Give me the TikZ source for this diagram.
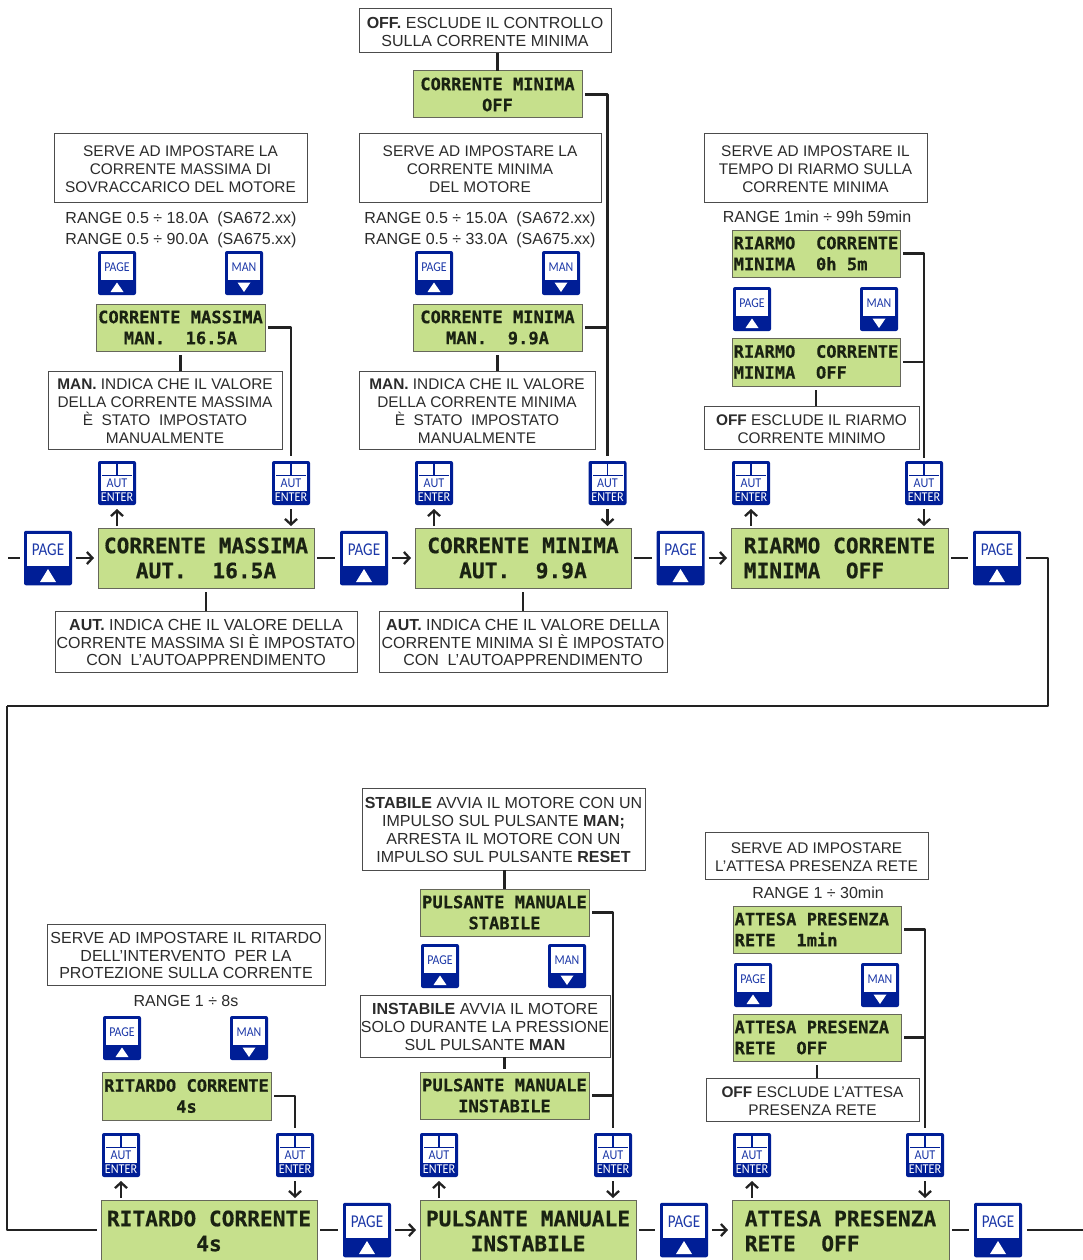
\documentclass[tikz,border=0pt]{standalone}
\usepackage{fontspec}
\usepackage{graphicx}
\setmainfont{Liberation Sans}
\newfontfamily\lcdfont[BoldFeatures={FakeBold=0.5}]{DejaVu Sans Mono}
\newfontfamily\btnfont{Carlito}
\usetikzlibrary{arrows.meta}
\definecolor{lcdgreen}{HTML}{C6E08C}
\definecolor{lcdedge}{HTML}{66675A}
\definecolor{lcdtext}{HTML}{1A2212}
\definecolor{btnblue}{HTML}{001E96}
\definecolor{btntext}{HTML}{1C38A8}
\definecolor{ink}{HTML}{2B2B2B}
\definecolor{conncol}{HTML}{222222}
\tikzset{
 lcdbox/.style={draw=lcdedge,fill=lcdgreen,line width=1pt,inner sep=0pt,outer sep=0pt,text=lcdtext},
 lcdsm/.style={lcdbox,font=\lcdfont\bfseries\fontsize{17.1}{21}\selectfont},
 lcdbg/.style={lcdbox,font=\lcdfont\bfseries\fontsize{21.2}{25}\selectfont},
 txtbox/.style={draw=black!70,fill=white,line width=1pt,inner sep=0pt,outer sep=0pt,align=center,text=ink,font=\fontsize{16}{17.8}\selectfont},
 txtsm/.style={font=\fontsize{15.4}{17.8}\selectfont},
 freetxt/.style={inner sep=0pt,outer sep=0pt,text=ink,font=\fontsize{16}{18}\selectfont},
 btnshape/.style={fill=btnblue,rounded corners=2pt,inner sep=0pt,outer sep=0pt},
 btnin/.style={fill=white},
 conn/.style={draw=conncol,line width=2.5pt,line join=round},
 arr/.style={conn,-{Straight Barb[length=5.5pt,width=12pt,line width=2.3pt]}},
}
\newcommand\lcdS[6]{\pgfmathsetmacro\cx{(#2+#4)/2}\pgfmathsetmacro\cy{(#3+#5)/2}\pgfmathsetmacro\ww{#4-#2}\pgfmathsetmacro\hh{#5-#3}%
 \node[lcdsm,minimum width=\ww pt,minimum height=\hh pt,align=center] (#1) at (\cx,\cy) {#6};}
\newcommand\lcdL[6]{\pgfmathsetmacro\cx{(#2+#4)/2}\pgfmathsetmacro\cy{(#3+#5)/2}\pgfmathsetmacro\ww{#4-#2}\pgfmathsetmacro\hh{#5-#3}%
 \node[lcdsm,minimum width=\ww pt,minimum height=\hh pt,align=left] (#1) at (\cx,\cy) {#6};}
\newcommand\bigC[6]{\pgfmathsetmacro\cx{(#2+#4)/2}\pgfmathsetmacro\cy{(#3+#5)/2}\pgfmathsetmacro\ww{#4-#2}\pgfmathsetmacro\hh{#5-#3}%
 \node[lcdbg,minimum width=\ww pt,minimum height=\hh pt,align=center] (#1) at (\cx,\cy) {#6};}
\newcommand\bigL[6]{\pgfmathsetmacro\cx{(#2+#4)/2}\pgfmathsetmacro\cy{(#3+#5)/2}\pgfmathsetmacro\ww{#4-#2}\pgfmathsetmacro\hh{#5-#3}%
 \node[lcdbg,minimum width=\ww pt,minimum height=\hh pt,align=left] (#1) at (\cx,\cy) {#6};}
\newcommand\tbox[6]{\pgfmathsetmacro\cx{(#2+#4)/2}\pgfmathsetmacro\cy{(#3+#5)/2}\pgfmathsetmacro\ww{#4-#2}\pgfmathsetmacro\hh{#5-#3}%
 \node[txtbox,minimum width=\ww pt,minimum height=\hh pt] (#1) at (\cx,\cy) {\rule{0pt}{13.5pt}#6};}
\newcommand\tboxs[6]{\pgfmathsetmacro\cx{(#2+#4)/2}\pgfmathsetmacro\cy{(#3+#5)/2}\pgfmathsetmacro\ww{#4-#2}\pgfmathsetmacro\hh{#5-#3}%
 \node[txtbox,txtsm,minimum width=\ww pt,minimum height=\hh pt] (#1) at (\cx,\cy) {\rule{0pt}{13.5pt}#6};}
\newcommand\pageS[3]{\begin{scope}[shift={(#2,#3)}]
 \node[btnshape,minimum width=38pt,minimum height=44pt] (#1) at (19,22) {};
 \fill[btnin] (3,3) rectangle (35,29);
 \node[inner sep=0pt,text=btntext,font=\btnfont\fontsize{13.5}{14}\selectfont] (#1t) at (19,16) {\scalebox{.88}[1]{PAGE}};
 \fill[white] (12.5,41) -- (25.5,41) -- (19,31.5) -- cycle;
 \end{scope}}
\newcommand\manS[3]{\begin{scope}[shift={(#2,#3)}]
 \node[btnshape,minimum width=38pt,minimum height=44pt] (#1) at (19,22) {};
 \fill[btnin] (3,3) rectangle (35,29);
 \node[inner sep=0pt,text=btntext,font=\btnfont\fontsize{13.5}{14}\selectfont] (#1t) at (19,16) {\scalebox{.88}[1]{MAN}};
 \fill[white] (12.5,31.5) -- (25.5,31.5) -- (19,41) -- cycle;
 \end{scope}}
\newcommand\autB[3]{\begin{scope}[shift={(#2,#3)}]
 \node[btnshape,minimum width=38pt,minimum height=44pt] (#1) at (19,22) {};
 \fill[btnin] (3,3) rectangle (35,30);
 \fill[btnblue] (4,13.5) rectangle (34,14.5);
 \fill[btnblue] (18.2,3) rectangle (19.8,14);
 \node[inner sep=0pt,text=btntext,font=\btnfont\fontsize{13.5}{14}\selectfont] (#1a) at (19,22.3) {\scalebox{.9}[1]{AUT}};
 \node[inner sep=0pt,text=white,font=\btnfont\fontsize{13.5}{14}\selectfont] (#1e) at (19,36.5) {\scalebox{.9}[1]{ENTER}};
 \end{scope}}
\newcommand\pageB[3]{\begin{scope}[shift={(#2,#3)}]
 \node[btnshape,minimum width=48pt,minimum height=54.5pt] (#1) at (24,27) {};
 \fill[btnin] (3,3) rectangle (45,35);
 \node[inner sep=0pt,text=btntext,font=\btnfont\fontsize{18}{19}\selectfont] (#1t) at (24,19) {\scalebox{.84}[1]{PAGE}};
 \fill[white] (16,51) -- (32,51) -- (24,38) -- cycle;
 \end{scope}}
\begin{document}
\begin{tikzpicture}[x=1pt,y=-1pt]
\useasboundingbox (0,0) rectangle (1083,1260);
\fill[white] (0,0) rectangle (1083,1260);
% ---------- top row ----------
\tbox{topbox}{359}{9}{611}{53}{\textbf{OFF.} ESCLUDE IL CONTROLLO\\SULLA CORRENTE MINIMA}
\lcdS{offlcd}{413}{71}{582}{118}{CORRENTE MINIMA\\OFF}
% left group
\tboxs{d1}{54}{134}{307}{202}{SERVE AD IMPOSTARE LA\\CORRENTE MASSIMA DI\\SOVRACCARICO DEL MOTORE}
\node[freetxt] (r1a) at (181,219.7) {RANGE 0.5 ÷ 18.0A\ \ (SA672.xx)};
\node[freetxt] (r1b) at (181,240.2) {RANGE 0.5 ÷ 90.0A\ \ (SA675.xx)};
\pageS{p1}{98}{251}\manS{m1}{225}{251}
\lcdS{l1}{96}{304}{265}{351}{CORRENTE MASSIMA\\MAN.~~16.5A}
\tboxs{n1}{48}{371}{282}{449}{\textbf{MAN.} INDICA CHE IL VALORE\\DELLA CORRENTE MASSIMA\\È\ \ STATO\ \ IMPOSTATO\\MANUALMENTE}
\autB{a1}{98}{461}\autB{e1}{272}{461}
\bigC{B1}{98}{528}{314}{588}{CORRENTE MASSIMA\\AUT.~~16.5A}
\pageB{P0}{24}{531}\pageB{P1}{340}{531}
\tbox{t1}{55}{611}{357}{672}{\textbf{AUT.} INDICA CHE IL VALORE DELLA\\CORRENTE MASSIMA SI È IMPOSTATO\\CON\ \ L’AUTOAPPRENDIMENTO}
% middle group
\tboxs{d2}{359}{134}{601}{202}{SERVE AD IMPOSTARE LA\\CORRENTE MINIMA\\DEL MOTORE}
\node[freetxt] (r2a) at (480,219.7) {RANGE 0.5 ÷ 15.0A\ \ (SA672.xx)};
\node[freetxt] (r2b) at (480,240.2) {RANGE 0.5 ÷ 33.0A\ \ (SA675.xx)};
\pageS{p2}{415}{251}\manS{m2}{542}{251}
\lcdS{l2}{413}{304}{582}{351}{CORRENTE MINIMA\\MAN.~~9.9A}
\tboxs{n2}{359}{371}{595}{449}{\textbf{MAN.} INDICA CHE IL VALORE\\DELLA CORRENTE MINIMA\\È\ \ STATO\ \ IMPOSTATO\\MANUALMENTE}
\autB{a2}{415}{461}\autB{e2}{588.5}{461}
\bigC{B2}{415}{528}{631}{588}{CORRENTE MINIMA\\AUT.~~9.9A}
\pageB{P2}{656.5}{531}
\tbox{t2}{379}{611}{667}{672}{\textbf{AUT.} INDICA CHE IL VALORE DELLA\\CORRENTE MINIMA SI È IMPOSTATO\\CON\ \ L’AUTOAPPRENDIMENTO}
% right group
\tboxs{d3}{704}{134}{927}{202}{SERVE AD IMPOSTARE IL\\TEMPO DI RIARMO SULLA\\CORRENTE MINIMA}
\node[freetxt] (r3) at (817,216.7) {RANGE 1min ÷ 99h 59min};
\lcdL{l3a}{732}{230}{900}{277}{RIARMO~~CORRENTE\\MINIMA~~0h~5m}
\pageS{p3}{733}{287}\manS{m3}{860}{287}
\lcdL{l3b}{732}{338}{900}{386}{RIARMO~~CORRENTE\\MINIMA~~OFF}
\tboxs{n3}{704}{406}{919}{449}{\textbf{OFF} ESCLUDE IL RIARMO\\CORRENTE MINIMO}
\autB{a3}{732}{461}\autB{e3}{905}{461}
\bigL{B3}{731}{528}{948}{588}{RIARMO CORRENTE\\MINIMA~~OFF}
\pageB{P3}{973}{531}
% ---------- bottom row ----------
\tbox{d4}{47}{924}{325}{985}{SERVE AD IMPOSTARE IL RITARDO\\DELL’INTERVENTO\ \ PER LA\\PROTEZIONE SULLA CORRENTE}
\node[freetxt] (r4) at (186,1000.7) {RANGE 1 ÷ 8s};
\pageS{p4}{103}{1016}\manS{m4}{230}{1016}
\lcdS{l4}{102}{1072}{271}{1120}{RITARDO CORRENTE\\4s}
\autB{a4}{102}{1133}\autB{e4}{276}{1133}
\bigC{B4}{101}{1200}{317}{1262}{RITARDO CORRENTE\\4s}
\pageB{P4}{343}{1203}
\tbox{d5}{362}{788}{645}{870}{\textbf{STABILE} AVVIA IL MOTORE CON UN\\IMPULSO SUL PULSANTE \textbf{MAN;}\\ARRESTA IL MOTORE CON UN\\IMPULSO SUL PULSANTE \textbf{RESET}}
\lcdS{l5a}{420}{889}{589}{936}{PULSANTE MANUALE\\STABILE}
\pageS{p5}{421}{944}\manS{m5}{548}{944}
\tbox{n5}{360}{995}{610}{1057}{\textbf{INSTABILE} AVVIA IL MOTORE\\SOLO DURANTE LA PRESSIONE\\SUL PULSANTE \textbf{MAN}}
\lcdS{l5b}{420}{1072}{589}{1119}{PULSANTE MANUALE\\INSTABILE}
\autB{a5}{420}{1133}\autB{e5}{594}{1133}
\bigC{B5}{420}{1200}{636}{1262}{PULSANTE MANUALE\\INSTABILE}
\pageB{P5}{660}{1203}
\tboxs{d6}{705}{832}{928}{879}{SERVE AD IMPOSTARE\\L’ATTESA PRESENZA RETE}
\node[freetxt] (r6) at (818,892.7) {RANGE 1 ÷ 30min};
\lcdL{l6a}{733}{906}{901}{953}{ATTESA PRESENZA\phantom{A}\\RETE~~1min}
\pageS{p6}{734}{963}\manS{m6}{861}{963}
\lcdL{l6b}{733}{1014}{901}{1061}{ATTESA PRESENZA\phantom{A}\\RETE~~OFF}
\tboxs{n6}{706}{1078}{919}{1121}{\textbf{OFF} ESCLUDE L’ATTESA\\PRESENZA RETE}
\autB{a6}{733}{1133}\autB{e6}{906}{1133}
\bigL{B6}{732}{1200}{949}{1262}{ATTESA PRESENZA\\RETE~~OFF}
\pageB{P6}{974}{1203}
% ---------- free connector ends ----------
\coordinate (inA) at (8,558);
\coordinate (turnA) at (1048,706);
\coordinate (turnB) at (7,706);
\coordinate (outB) at (1083,1230);
% ---------- connectors ----------
\draw[conn] (topbox.south -| offlcd.north) -- (offlcd.north);
\draw[conn,shorten <=3pt,shorten >=5pt] (offlcd.east) -| (e2.north);
\draw[conn,shorten <=3pt] (l2.east) -- (l2.east -| e2.north);
\draw[conn,shorten <=3pt,shorten >=5pt] (l1.east) -| (e1.north);
\draw[conn,shorten <=4pt] (l1.south) -- (l1.south |- n1.north);
\draw[conn,shorten <=4pt] (l2.south) -- (l2.south |- n2.north);
\draw[conn,shorten <=4pt] (B1.south) -- (B1.south |- t1.north);
\draw[conn,shorten <=4pt] (B2.south) -- (B2.south |- t2.north);
\draw[conn,shorten <=3pt,shorten >=3pt] (l3a.east) -| (e3.north);
\draw[conn,shorten <=3pt] (l3b.east) -- (l3b.east -| e3.north);
\draw[conn,shorten <=4pt] (l3b.south) -- (l3b.south |- n3.north);
\foreach \au/\bg in {a1/B1,a2/B2,a3/B3,a4/B4,a5/B5,a6/B6}{
 \draw[arr,shorten <=2pt,shorten >=4pt] (\au.south |- \bg.north) -- (\au.south);}
\foreach \en/\bg in {e1/B1,e2/B2,e3/B3,e4/B4,e5/B5,e6/B6}{
 \draw[arr,shorten <=4pt,shorten >=2pt] (\en.south) -- (\en.south |- \bg.north);}
\draw[conn,shorten >=4pt] (inA) -- (P0.west);
\draw[arr,shorten <=4pt,shorten >=4pt] (P0.east) -- (B1.west);
\draw[conn,shorten <=3pt,shorten >=5pt] (B1.east) -- (P1.west);
\draw[arr,shorten <=4pt,shorten >=4pt] (P1.east) -- (P1.east -| B2.west);
\draw[conn,shorten <=3pt,shorten >=5pt] (B2.east) -- (P2.west);
\draw[arr,shorten <=4pt,shorten >=4pt] (P2.east) -- (P2.east -| B3.west);
\draw[conn,shorten <=3pt,shorten >=5pt] (B3.east) -- (P3.west);
\draw[conn,shorten <=5pt] (P3.east) -| (turnA) -- (turnB);
\draw[conn,shorten >=4pt] (turnB) |- (P4.west -| B4.west);
\draw[conn,shorten <=3pt,shorten >=5pt] (B4.east |- P4.west) -- (P4.west);
\draw[arr,shorten <=4pt,shorten >=4pt] (P4.east) -- (P4.east -| B5.west);
\draw[conn,shorten <=3pt,shorten >=5pt] (B5.east |- P5.west) -- (P5.west);
\draw[arr,shorten <=4pt,shorten >=4pt] (P5.east) -- (P5.east -| B6.west);
\draw[conn,shorten <=3pt,shorten >=5pt] (B6.east |- P6.west) -- (P6.west);
\draw[conn,shorten <=5pt] (P6.east) -- (outB);
\draw[conn,shorten <=3pt,shorten >=5pt] (l4.east) -| (e4.north);
\draw[conn] (d5.south -| l5a.north) -- (l5a.north);
\draw[conn,shorten >=3pt] (n5.south -| l5b.north) -- (l5b.north);
\draw[conn,shorten <=3pt,shorten >=5pt] (l5a.east) -| (e5.north);
\draw[conn,shorten <=3pt] (l5b.east) -- (l5b.east -| e5.north);
\draw[conn,shorten <=3pt,shorten >=5pt] (l6a.east) -| (e6.north);
\draw[conn,shorten <=3pt] (l6b.east) -- (l6b.east -| e6.north);
\draw[conn,shorten <=4pt] (l6b.south) -- (l6b.south |- n6.north);
\end{tikzpicture}
\end{document}
